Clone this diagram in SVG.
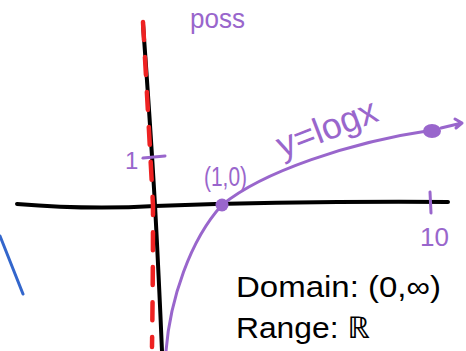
<svg xmlns="http://www.w3.org/2000/svg" width="466" height="351" viewBox="0 0 466 351">
<style>
.ax{fill:none;stroke:#000;stroke-width:4;stroke-linecap:round}
.pu{fill:none;stroke:#9966CC;stroke-width:3;stroke-linecap:round;stroke-linejoin:round}
.pt{fill:#9966CC;font-family:"Liberation Sans","Noto Sans",sans-serif}
.bt{fill:#000;font-family:"Liberation Sans","Noto Sans",sans-serif}
</style>
<rect width="466" height="351" fill="#fff"/>
<g id="axes">
<path class="ax" d="M17,204 Q90,210 155,206 Q300,201 448,202"/>
<path class="ax" d="M143,24 Q150,120 155,205 Q159,280 162,351"/>
</g>
<g id="asymptote">
<path d="M143,22 Q149,130 153,205 Q153,280 152,347" fill="none" stroke="#EE2222" stroke-width="4.5" stroke-linecap="round" stroke-dasharray="18 17"/>
</g>
<g id="blue">
<path d="M0,236 L23,294" fill="none" stroke="#3366CC" stroke-width="3" stroke-linecap="round"/>
</g>
<g id="ticks">
<path class="pu" d="M143,158 L165,156"/>
<path class="pu" d="M430,192 L431,213"/>
<text class="pt" x="125" y="169" font-size="24">1</text>
<text class="pt" x="420" y="246" font-size="26">10</text>
</g>
<g id="curve">
<path class="pu" d="M166,351 C170,300 190,240 222,205 C262,172 350,142 433,130"/>
<circle cx="222" cy="205" r="6.5" fill="#9966CC"/>
<ellipse cx="432" cy="131" rx="9" ry="7" fill="#9966CC"/>
<path class="pu" d="M441,128 L462,123 M455,119 L462,123 L456,128"/>
</g>
<g id="labels">
<text class="pt" x="190" y="28" font-size="28" textLength="55" lengthAdjust="spacingAndGlyphs">poss</text>
<text class="pt" x="204" y="186" font-size="28" textLength="43" lengthAdjust="spacingAndGlyphs">(1,0)</text>
<text class="pt" x="282" y="158" font-size="36" transform="rotate(-21 282 158)">y=logx</text>
<text class="bt" x="236" y="297" font-size="30" textLength="205" lengthAdjust="spacingAndGlyphs">Domain: (0,∞)</text>
<text class="bt" x="236" y="338" font-size="30" textLength="134" lengthAdjust="spacingAndGlyphs">Range: ℝ</text>
</g>
</svg>
